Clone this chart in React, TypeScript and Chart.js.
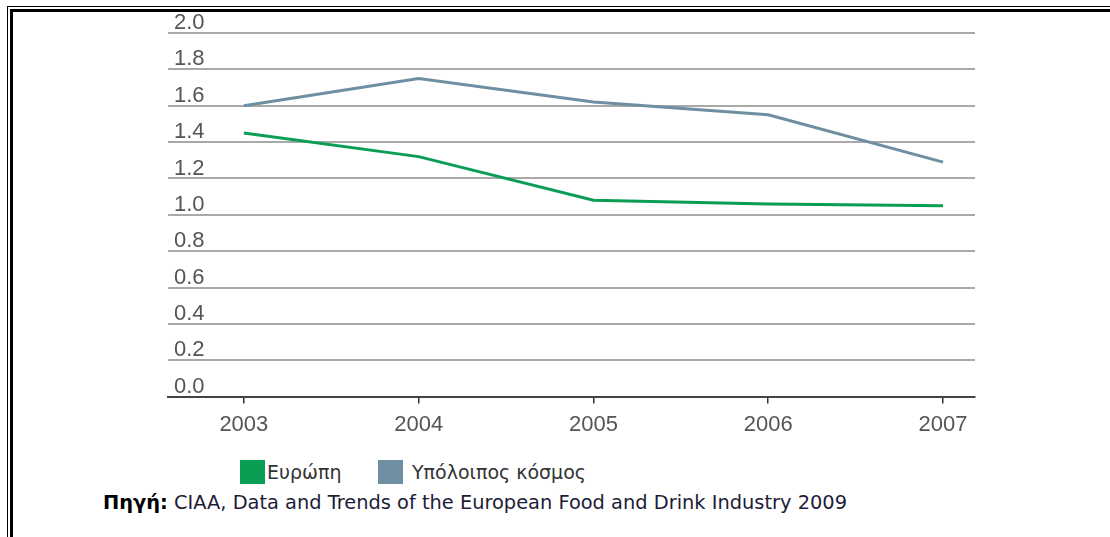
import React, { useEffect, useRef } from "react";
import { Chart, registerables } from "chart.js";

Chart.register(...registerables);

const years = [2003, 2004, 2005, 2006, 2007];
const europe = [1.45, 1.32, 1.08, 1.06, 1.05];
const restOfWorld = [1.6, 1.75, 1.62, 1.55, 1.29];
const yTicks = [0, 0.2, 0.4, 0.6, 0.8, 1.0, 1.2, 1.4, 1.6, 1.8, 2.0];
const seriesNames = ["Ευρώπη", "Υπόλοιπος κόσμος"];
const seriesColors = ["#0a9e55", "#6e8ea2"];
const sourceLabel = "Πηγή:";
const sourceText = " CIAA, Data and Trends of the European Food and Drink Industry 2009";

export default function App() {
  const ref = useRef<HTMLCanvasElement | null>(null);

  useEffect(() => {
    if (!ref.current) return;
    const chart = new Chart(ref.current, {
      type: "line",
      data: {
        datasets: [
          {
            label: seriesNames[0],
            data: years.map((y, i) => ({ x: y, y: europe[i] })),
            borderColor: seriesColors[0],
            backgroundColor: seriesColors[0],
            borderWidth: 3,
            pointRadius: 0,
            tension: 0,
          },
          {
            label: seriesNames[1],
            data: years.map((y, i) => ({ x: y, y: restOfWorld[i] })),
            borderColor: seriesColors[1],
            backgroundColor: seriesColors[1],
            borderWidth: 3,
            pointRadius: 0,
            tension: 0,
          },
        ],
      },
      options: {
        animation: false,
        responsive: false,
        maintainAspectRatio: false,
        layout: { padding: { left: 156, right: 135, top: 33, bottom: 0 } },
        plugins: { legend: { display: false }, tooltip: { enabled: false } },
        scales: {
          x: {
            type: "linear",
            min: 2002.566,
            max: 2007.183,
            afterBuildTicks: (scale: any) => {
              scale.ticks = years.map((v) => ({ value: v }));
            },
            ticks: {
              includeBounds: false,
              color: "#555",
              font: { family: "Liberation Sans", size: 22 },
              padding: 8,
              maxRotation: 0,
              callback: (_v: any, i: number) => String(years[i]),
            },
            grid: {
              drawOnChartArea: false,
              drawTicks: true,
              tickLength: 7,
              color: "#333",
              lineWidth: 1.5,
            },
            border: { display: true, color: "#444", width: 2 },
          },
          y: {
            min: 0,
            max: 2,
            afterBuildTicks: (scale: any) => {
              scale.ticks = yTicks.map((v) => ({ value: v }));
            },
            ticks: {
              mirror: true,
              padding: 6,
              labelOffset: -10,
              color: "#555",
              font: { family: "Liberation Sans", size: 22 },
              callback: (v: any) => Number(v).toFixed(1),
            },
            grid: { drawTicks: false, color: "#a9a9a9", lineWidth: 2 },
            border: { display: false },
          },
        },
      },
    });
    return () => chart.destroy();
  }, []);

  return (
    <div style={{ position: "absolute", left: 0, top: 0, width: 1110, height: 537, background: "#fff", overflow: "hidden" }}>
      <div style={{ position: "absolute", left: 7, top: 6, right: -10, bottom: -10, borderLeft: "1px solid #000", borderTop: "1px solid #000" }} />
      <div style={{ position: "absolute", left: 10, top: 9, right: -10, bottom: -10, borderLeft: "3px solid #000", borderTop: "3px solid #000" }} />
      <canvas ref={ref} width={1110} height={446} style={{ position: "absolute", left: 0, top: 0, width: 1110, height: 446 }} />
      <div style={{ position: "absolute", left: 240, top: 460, width: 25, height: 24, background: seriesColors[0] }} />
      <div style={{ position: "absolute", left: 267, top: 460, height: 24, lineHeight: "24px", fontFamily: "DejaVu Sans", fontSize: 19, color: "#333", whiteSpace: "nowrap" }}>{seriesNames[0]}</div>
      <div style={{ position: "absolute", left: 378, top: 460, width: 25, height: 24, background: seriesColors[1] }} />
      <div style={{ position: "absolute", left: 412, top: 460, height: 24, lineHeight: "24px", fontFamily: "DejaVu Sans", fontSize: 19, color: "#333", whiteSpace: "nowrap" }}>{seriesNames[1]}</div>
      <div style={{ position: "absolute", left: 103, top: 490, height: 26, lineHeight: "26px", fontFamily: "DejaVu Sans", fontSize: 19.4, color: "#1c1c38", whiteSpace: "nowrap" }}>
        <b style={{ color: "#000" }}>{sourceLabel}</b>{sourceText}
      </div>
    </div>
  );
}
